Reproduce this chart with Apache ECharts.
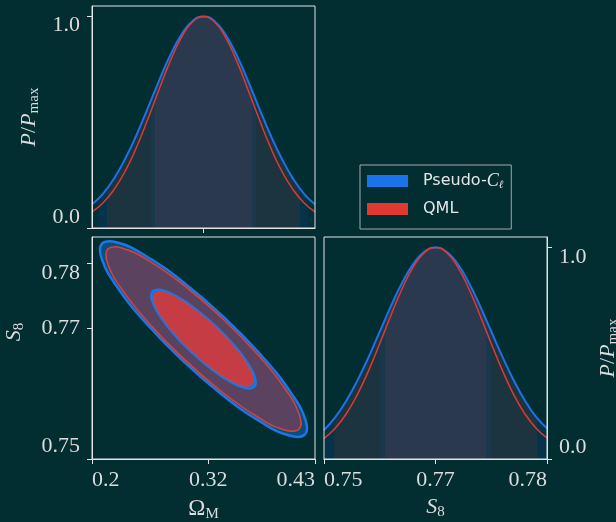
<!DOCTYPE html>
<html>
<head>
<meta charset="utf-8">
<script src="https://cdn.jsdelivr.net/npm/echarts@6/dist/echarts.min.js"></script>
<style>
  html, body { margin: 0; padding: 0; background: #022d31; }
  #main { width: 616px; height: 522px; }
</style>
</head>
<body>
<div id="main"></div>
<script>
// 1D marginal of Omega_M (normalised P / Pmax)
var omegaGrid = [0.2, 0.2115, 0.223, 0.2345, 0.246, 0.2575, 0.269, 0.2805, 0.292, 0.3035, 0.315, 0.3265, 0.338, 0.3495, 0.361, 0.3725, 0.384, 0.3955, 0.407, 0.4185, 0.43];
var omegaPseudoCl = [0.112, 0.163, 0.236, 0.330, 0.441, 0.566, 0.695, 0.815, 0.913, 0.978, 1.000, 0.978, 0.913, 0.815, 0.695, 0.566, 0.441, 0.330, 0.236, 0.163, 0.112];
var omegaQML = [0.076, 0.119, 0.184, 0.271, 0.383, 0.514, 0.653, 0.787, 0.899, 0.974, 1.000, 0.974, 0.899, 0.787, 0.653, 0.514, 0.383, 0.271, 0.184, 0.119, 0.076];

// 1D marginal of S8
var s8Grid = [0.75, 0.7517, 0.7534, 0.7551, 0.7568, 0.7585, 0.7602, 0.7619, 0.7636, 0.7653, 0.767, 0.7687, 0.7704, 0.7721, 0.7738, 0.7755, 0.7772, 0.7789, 0.7806, 0.7823, 0.784];
var s8PseudoCl = [0.137, 0.197, 0.275, 0.372, 0.482, 0.602, 0.723, 0.833, 0.922, 0.980, 1.000, 0.980, 0.922, 0.833, 0.723, 0.603, 0.484, 0.374, 0.278, 0.200, 0.145];
var s8QML = [0.097, 0.145, 0.214, 0.306, 0.418, 0.546, 0.679, 0.804, 0.908, 0.976, 1.000, 0.976, 0.908, 0.804, 0.679, 0.546, 0.419, 0.306, 0.215, 0.147, 0.100];

// 2D contours [Omega_M, S8]
var pseudoCl2sigma = [[0.41968, 0.75376], [0.41984, 0.75614], [0.40403, 0.76039], [0.37468, 0.76586], [0.33623, 0.77170], [0.29455, 0.77704], [0.25599, 0.78106], [0.22641, 0.78315], [0.21032, 0.78298], [0.21016, 0.78060], [0.22597, 0.77635], [0.25532, 0.77088], [0.29377, 0.76504], [0.33545, 0.75970], [0.37401, 0.75568], [0.40359, 0.75359]];
var qml2sigma = [[0.41368, 0.75459], [0.41375, 0.75683], [0.39879, 0.76083], [0.37107, 0.76597], [0.33482, 0.77148], [0.29554, 0.77652], [0.25924, 0.78031], [0.23141, 0.78229], [0.21632, 0.78215], [0.21625, 0.77991], [0.23121, 0.77591], [0.25893, 0.77077], [0.29518, 0.76526], [0.33446, 0.76022], [0.37076, 0.75643], [0.39859, 0.75445]];
var pseudoCl1sigma = [[0.36753, 0.76104], [0.36841, 0.76236], [0.36115, 0.76460], [0.34687, 0.76741], [0.32774, 0.77037], [0.30667, 0.77302], [0.28687, 0.77497], [0.27135, 0.77591], [0.26247, 0.77570], [0.26160, 0.77438], [0.26885, 0.77214], [0.28313, 0.76933], [0.30226, 0.76637], [0.32333, 0.76372], [0.34313, 0.76177], [0.35866, 0.76083]];
var qml1sigma = [[0.36490, 0.76140], [0.36565, 0.76265], [0.35869, 0.76476], [0.34508, 0.76743], [0.32689, 0.77024], [0.30689, 0.77276], [0.28812, 0.77462], [0.27345, 0.77552], [0.26510, 0.77534], [0.26435, 0.77409], [0.27131, 0.77198], [0.28492, 0.76931], [0.30311, 0.76650], [0.32311, 0.76398], [0.34188, 0.76212], [0.35655, 0.76122]];

// tick values
var omegaTicks = [0.2, 0.32, 0.43];
var s8Ticks = [0.75, 0.77, 0.78];
var s8MargTicks = [0.75, 0.767, 0.784];
var probTicks = [0, 1];

var bg = '#022d31';
var fg = '#dcdcdc';
var blue = '#1a73e8', red = '#e0392f';
var serif = 'Liberation Serif';

// shading bands (1 and 2 sigma edges, both chains)
var omegaBandEdges = [0.2072, 0.2154, 0.2611, 0.2652, 0.3648, 0.3689, 0.4146, 0.4228];
var s8BandEdges = [0.75012, 0.75156, 0.75856, 0.75928, 0.77472, 0.77544, 0.78244, 0.78388];
var bandColors = ['#04303a', '#05344a', '#1b3440', '#19384c', '#2a394e', '#19384c', '#1b3440', '#05344a', '#04303a'];

function shade(min, max, edges) {
  var pos = [0].concat(edges.map(function (e) { return (e - min) / (max - min); }), [1]);
  var stops = [];
  for (var i = 0; i < bandColors.length; i++) {
    stops.push({ offset: pos[i], color: bandColors[i] });
    stops.push({ offset: pos[i + 1], color: bandColors[i] });
  }
  return new echarts.graphic.LinearGradient(0, 0, 1, 0, stops);
}

function pairs(xs, ys) {
  return xs.map(function (x, i) { return [x, ys[i]]; });
}

function contour(name, pts, fill, stroke, width) {
  return {
    name: name,
    type: 'custom',
    xAxisIndex: 1,
    yAxisIndex: 1,
    data: pts,
    silent: true,
    renderItem: function (params, api) {
      if (params.dataIndex !== 0) return null;
      var poly = pts.map(function (p) { return api.coord(p); });
      return {
        type: 'polygon',
        shape: { points: poly, smooth: 0.45 },
        style: { fill: fill, stroke: stroke, lineWidth: width }
      };
    }
  };
}

var lineCol = { color: '#e4e4e4', width: 1 };
var tickStyle = { length: 5, lineStyle: { color: '#e4e4e4', width: 1 } };
var labelBase = { color: fg, fontFamily: serif, fontSize: 22 };
var subRich = {
  i: { fontFamily: serif, fontStyle: 'italic', fontSize: 22, color: fg },
  n: { fontFamily: serif, fontSize: 22, color: fg },
  s: { fontFamily: serif, fontSize: 15, color: fg, padding: [11, 0, 0, 0] }
};

function probLabel(v) {
  return v === 1 ? '{t|1.0}' : '{b|0.0}';
}

var myChart = echarts.init(document.getElementById('main'));

var option = {
  backgroundColor: bg,
  animation: false,
  grid: [
    { left: 92, top: 6, width: 223, height: 222, show: true, borderColor: '#e4e4e4', borderWidth: 1, z: 10, outerBoundsMode: 'none' },
    { left: 92, top: 237, width: 223, height: 222, show: true, borderColor: '#e4e4e4', borderWidth: 1, z: 10, outerBoundsMode: 'none' },
    { left: 324, top: 237, width: 223, height: 222, show: true, borderColor: '#e4e4e4', borderWidth: 1, z: 10, outerBoundsMode: 'none' }
  ],
  xAxis: [
    {
      gridIndex: 0, type: 'value', min: 0.2, max: 0.43, z: 10,
      axisLine: { show: true, lineStyle: lineCol },
      axisTick: Object.assign({ show: true, customValues: [0.315] }, tickStyle),
      axisLabel: { show: false },
      splitLine: { show: false }
    },
    {
      gridIndex: 1, type: 'value', min: 0.2, max: 0.43, z: 10,
      axisLine: { show: true, lineStyle: lineCol },
      axisTick: Object.assign({ show: true, customValues: omegaTicks }, tickStyle),
      axisLabel: Object.assign({
        customValues: omegaTicks, margin: 10,
        alignMinLabel: 'left', alignMaxLabel: 'right',
        formatter: function (v) { return String(v); }
      }, labelBase),
      splitLine: { show: false },
      name: 'Ω{s|M}', nameLocation: 'middle', nameGap: 37,
      nameTextStyle: { color: fg, fontFamily: serif, fontSize: 23, rich: subRich }
    },
    {
      gridIndex: 2, type: 'value', min: 0.75, max: 0.784, z: 10,
      axisLine: { show: true, lineStyle: lineCol },
      axisTick: Object.assign({ show: true, customValues: s8MargTicks }, tickStyle),
      axisLabel: Object.assign({
        customValues: s8MargTicks, margin: 10,
        alignMinLabel: 'left', alignMaxLabel: 'right',
        formatter: function (v) { return v.toFixed(2); }
      }, labelBase),
      splitLine: { show: false },
      name: '{i|S}{s|8}', nameLocation: 'middle', nameGap: 35,
      nameTextStyle: { color: fg, fontFamily: serif, fontSize: 22, rich: subRich }
    }
  ],
  yAxis: [
    {
      gridIndex: 0, type: 'value', min: 0, max: 1.05, z: 10,
      axisLine: { show: true, lineStyle: lineCol },
      axisTick: Object.assign({ show: true, customValues: probTicks }, tickStyle),
      axisLabel: Object.assign({
        customValues: probTicks, margin: 12, formatter: probLabel,
        rich: { t: { padding: [17, 0, 0, 0] }, b: { padding: [0, 0, 22, 0] } }
      }, labelBase),
      splitLine: { show: false },
      name: '{i|P}{n|/}{i|P}{s|max}', nameLocation: 'middle', nameGap: 50, nameRotate: 90,
      nameTextStyle: { color: fg, fontFamily: serif, fontSize: 22, rich: subRich }
    },
    {
      gridIndex: 1, type: 'value', min: 0.75, max: 0.784, z: 10,
      axisLine: { show: true, lineStyle: lineCol },
      axisTick: Object.assign({ show: true, customValues: s8Ticks }, tickStyle),
      axisLabel: Object.assign({
        customValues: s8Ticks, margin: 12,
        formatter: function (v) {
          if (v === 0.78) return '{t|0.78}';
          if (v === 0.75) return '{b|0.75}';
          return v.toFixed(2);
        },
        rich: { t: { padding: [20, 0, 0, 0] }, b: { padding: [0, 0, 25, 0] } }
      }, labelBase),
      splitLine: { show: false },
      name: '{i|S}{s|8}', nameLocation: 'middle', nameGap: 65, nameRotate: 90,
      nameTextStyle: { color: fg, fontFamily: serif, fontSize: 22, rich: subRich, padding: [0, 0, 0, 32] }
    },
    {
      gridIndex: 2, type: 'value', min: 0, max: 1.05, position: 'right', z: 10,
      axisLine: { show: true, lineStyle: lineCol },
      axisTick: Object.assign({ show: true, customValues: probTicks }, tickStyle),
      axisLabel: Object.assign({
        customValues: probTicks, margin: 12, formatter: probLabel,
        rich: { t: { padding: [20, 0, 0, 0] }, b: { padding: [0, 0, 23, 0] } }
      }, labelBase),
      splitLine: { show: false },
      name: '{i|P}{n|/}{i|P}{s|max}', nameLocation: 'middle', nameGap: 48, nameRotate: 90,
      nameTextStyle: { color: fg, fontFamily: serif, fontSize: 22, rich: subRich }
    }
  ],
  legend: {
    left: 360, top: 165,
    orient: 'vertical',
    itemWidth: 41, itemHeight: 12, itemGap: 8,
    padding: [6, 8, 10, 7],
    borderColor: '#a8a8a8', borderWidth: 1, borderRadius: 0,
    backgroundColor: bg,
    data: [
      { name: 'Pseudo-Cl', icon: 'rect', itemStyle: { color: blue } },
      { name: 'QML', icon: 'rect', itemStyle: { color: red } }
    ],
    formatter: function (name) {
      return name === 'Pseudo-Cl' ? 'Pseudo-{c|C}{l|ℓ}' : name;
    },
    textStyle: {
      color: '#e6e6e6', fontFamily: 'DejaVu Sans', fontSize: 16, lineHeight: 20, padding: [0, 0, 0, 10],
      rich: {
        c: { fontFamily: serif, fontStyle: 'italic', fontSize: 18, color: '#e6e6e6' },
        l: { fontFamily: 'DejaVu Serif', fontStyle: 'italic', fontSize: 11, color: '#e6e6e6', padding: [8, 0, 0, 0] }
      }
    }
  },
  series: [
    {
      name: 'Pseudo-Cl', type: 'line', xAxisIndex: 0, yAxisIndex: 0,
      data: pairs(omegaGrid, omegaPseudoCl), smooth: true, showSymbol: false,
      lineStyle: { color: blue, width: 2 }, itemStyle: { color: blue },
      areaStyle: { color: shade(0.2, 0.43, omegaBandEdges), opacity: 1 }
    },
    {
      name: 'QML', type: 'line', xAxisIndex: 0, yAxisIndex: 0,
      data: pairs(omegaGrid, omegaQML), smooth: true, showSymbol: false,
      lineStyle: { color: red, width: 1.5 }, itemStyle: { color: red }
    },
    {
      name: 'Pseudo-Cl', type: 'line', xAxisIndex: 2, yAxisIndex: 2,
      data: pairs(s8Grid, s8PseudoCl), smooth: true, showSymbol: false,
      lineStyle: { color: blue, width: 2 }, itemStyle: { color: blue },
      areaStyle: { color: shade(0.75, 0.784, s8BandEdges), opacity: 1 }
    },
    {
      name: 'QML', type: 'line', xAxisIndex: 2, yAxisIndex: 2,
      data: pairs(s8Grid, s8QML), smooth: true, showSymbol: false,
      lineStyle: { color: red, width: 1.5 }, itemStyle: { color: red }
    },
    contour('Pseudo-Cl', pseudoCl2sigma, '#0c4d80', '#1a78e6', 2.5),
    contour('QML', qml2sigma, '#5b4360', '#e0403a', 1.5),
    contour('Pseudo-Cl', pseudoCl1sigma, '#1470e0', '#1a78e6', 2),
    contour('QML', qml1sigma, '#c63c44', '#d9403a', 1)
  ]
};

myChart.setOption(option);
</script>
</body>
</html>
